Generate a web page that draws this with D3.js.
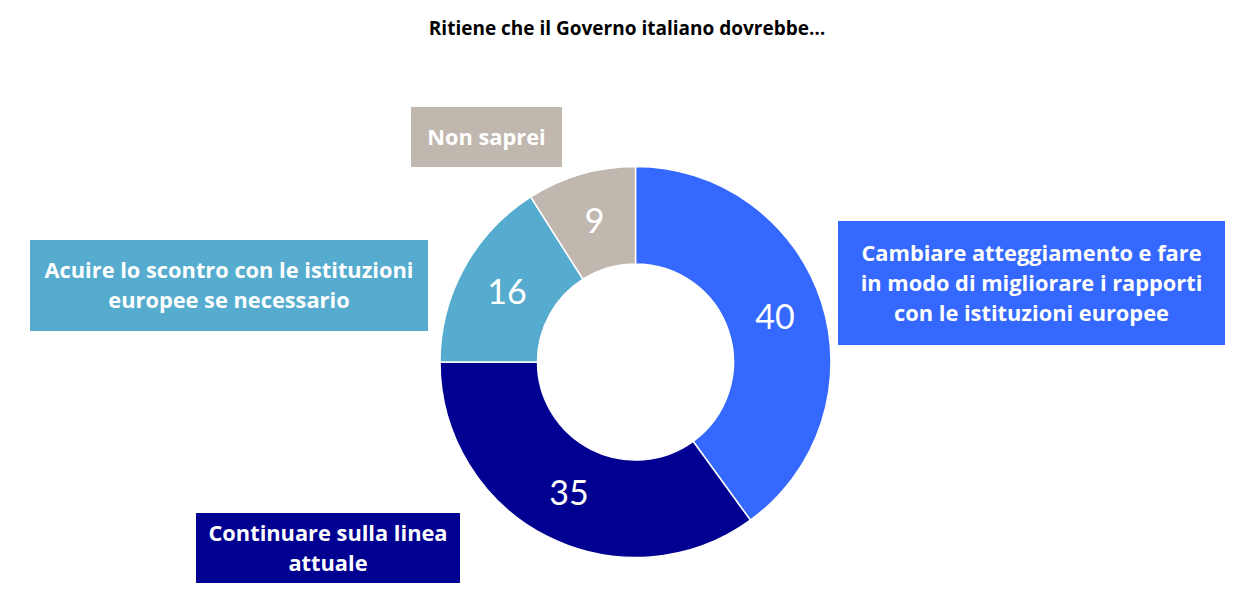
<!DOCTYPE html>
<html>
<head>
<meta charset="utf-8">
<title>Ritiene che il Governo italiano dovrebbe…</title>
<script src="https://cdn.jsdelivr.net/npm/d3@7"></script>
<style>
  body { margin: 0; background: #fff; }
  text { font-family: Lato, "Open Sans", sans-serif; }
  .lab text, .ttl { font-family: "Open Sans", sans-serif; }
</style>
</head>
<body>
<div id="chart"></div>
<script>
// data
var categories = [
  "Cambiare atteggiamento e fare|in modo di migliorare i rapporti|con le istituzioni europee",
  "Continuare sulla linea|attuale",
  "Acuire lo scontro con le istituzioni|europee se necessario",
  "Non saprei"
];
var values = [40, 35, 16, 9];
var colors = ["#3568FE", "#000091", "#55ACCF", "#C0B7AF"];
var title = "Ritiene che il Governo italiano dovrebbe…";

var width = 1240, height = 596;
var cx = 635.5, cy = 362, rOuter = 195.5, rInner = 98;

// label boxes (layout only): x, y, w, h
var boxes = [
  [838, 221, 387, 124],
  [196, 513, 264, 70],
  [30, 240, 398, 91],
  [411, 107, 151, 60]
];

var svg = d3.select("#chart").append("svg")
  .attr("width", width)
  .attr("height", height);

svg.append("text")
  .attr("class", "ttl")
  .attr("x", 627).attr("y", 34.5)
  .attr("text-anchor", "middle")
  .style("font-weight", "bold")
  .style("font-size", "19px")
  .attr("fill", "#000")
  .text(title);

var pie = d3.pie().sort(null).value(function(d){ return d; });
var arc = d3.arc().innerRadius(rInner).outerRadius(rOuter);
var arcs = pie(values);

var g = svg.append("g").attr("transform", "translate(" + cx + "," + cy + ")");

g.selectAll("path")
  .data(arcs)
  .enter().append("path")
  .attr("d", arc)
  .attr("fill", function(d, i){ return colors[i]; })
  .attr("stroke", "#fff")
  .attr("stroke-width", 1.5);

g.selectAll(".val")
  .data(arcs)
  .enter().append("text")
  .attr("class", "val")
  .attr("transform", function(d){ return "translate(" + arc.centroid(d) + ")"; })
  .attr("text-anchor", "middle")
  .attr("dy", "0.36em")
  .attr("fill", "#fff")
  .style("font-size", "34px")
  .text(function(d){ return d.data; });

// label boxes
var lab = svg.selectAll(".lab")
  .data(categories)
  .enter().append("g")
  .attr("class", "lab");

lab.append("rect")
  .attr("x", function(d, i){ return boxes[i][0]; })
  .attr("y", function(d, i){ return boxes[i][1]; })
  .attr("width", function(d, i){ return boxes[i][2]; })
  .attr("height", function(d, i){ return boxes[i][3]; })
  .attr("fill", function(d, i){ return colors[i]; });

var lineH = 30;
lab.each(function(d, i){
  var lines = d.split("|");
  var b = boxes[i];
  var mx = b[0] + b[2] / 2;
  var my = b[1] + b[3] / 2;
  var y0 = my - (lines.length - 1) * lineH / 2;
  var t = d3.select(this).append("text")
    .attr("text-anchor", "middle")
    .attr("fill", "#fff")
    .style("font-weight", "bold")
    .style("font-size", "21.8px");
  lines.forEach(function(l, k){
    t.append("tspan")
      .attr("x", mx)
      .attr("y", y0 + k * lineH)
      .attr("dy", "0.35em")
      .text(l);
  });
});
</script>
</body>
</html>
